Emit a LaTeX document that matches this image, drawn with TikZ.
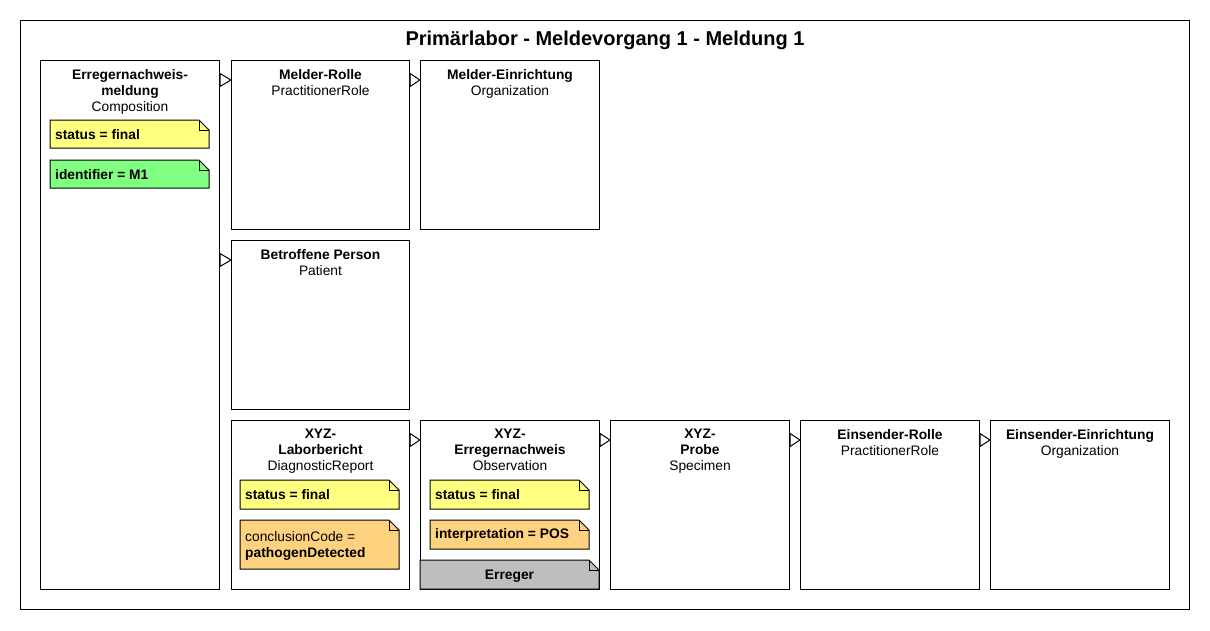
\documentclass[tikz,border=0pt]{standalone}
\usepackage{fontspec}
\setmainfont{Liberation Sans}
\usetikzlibrary{calc}
\definecolor{noteyellow}{HTML}{FFFF80}
\definecolor{notegreen}{HTML}{80FF80}
\definecolor{noteorange}{HTML}{FFD280}
\definecolor{notegray}{HTML}{BEBEBE}
\tikzset{
  every node/.style={font=\fontsize{13.8}{16}\selectfont},
  res/.style={draw=black, fill=white, line width=1pt, anchor=north west, inner sep=0pt,
              minimum width=179pt, minimum height=169pt},
  restext/.style={anchor=north, align=center, inner sep=0pt},
  notetext/.style={anchor=west, align=left, inner sep=0pt},
  ln/.style={line width=1pt},
  gentri/.style={line width=1pt, fill=white, line join=miter},
}
% #1 name, #2 x, #3 y, #4 w, #5 h, #6 colour
\newcommand\noteshape[6]{%
  \filldraw[ln, fill=#6] (#2,#3) -- ++(#4-10,0) -- ++(10,10) -- ++(0,#5-10) -- ++(-#4,0) -- cycle;
  \draw[ln] (#2+#4-10,#3) -- ++(0,10) -- ++(10,0);
  \coordinate (#1) at (#2,#3+#5/2);
}
\newcommand\gen[2]{%
  \draw[gentri] ($(#1.east |- #2.north)+(0,13.5)$) -- ($(#2.north west)+(0,20)$)
    -- ($(#1.east |- #2.north)+(0,26.5)$) -- cycle;
}
\begin{document}
\begin{tikzpicture}[x=1pt,y=-1pt]
\useasboundingbox (0,0) rectangle (1210,630);
\node[res, minimum width=1169pt, minimum height=589pt] (frame) at (20,20) {};
\node[anchor=base, inner sep=0pt, font=\fontsize{20}{22}\selectfont\bfseries] (title)
  at ($(frame.north)+(0,25)$) {Primärlabor - Meldevorgang 1 - Meldung 1};

% resource boxes
\node[res, minimum height=529pt] (comp) at (40,60) {};
\node[res, minimum width=178pt] (mr) at (231,60) {};
\node[res] (me) at (420,60) {};
\node[res, minimum width=178pt] (pat) at (231,240) {};
\node[res, minimum width=178pt] (dr) at (231,420) {};
\node[res] (obs) at (420,420) {};
\node[res] (spec) at (610,420) {};
\node[res] (er) at (800,420) {};
\node[res] (ee) at (990,420) {};

% box titles
\node[restext] (compT) at ($(comp.north)+(0,9)$) {\textbf{Erregernachweis-}\\\textbf{meldung}\\Composition};
\node[restext] (mrT) at ($(mr.north)+(0,9)$) {\textbf{Melder-Rolle}\\PractitionerRole};
\node[restext] (meT) at ($(me.north)+(0,9)$) {\textbf{Melder-Einrichtung}\\Organization};
\node[restext] (patT) at ($(pat.north)+(0,9)$) {\textbf{Betroffene Person}\\Patient};
\node[restext] (drT) at ($(dr.north)+(0,9)$) {\textbf{XYZ-}\\\textbf{Laborbericht}\\DiagnosticReport};
\node[restext] (obsT) at ($(obs.north)+(0,9)$) {\textbf{XYZ-}\\\textbf{Erregernachweis}\\Observation};
\node[restext] (specT) at ($(spec.north)+(0,9)$) {\textbf{XYZ-}\\\textbf{Probe}\\Specimen};
\node[restext] (erT) at ($(er.north)+(0,9)$) {\textbf{Einsender-Rolle}\\PractitionerRole};
\node[restext] (eeT) at ($(ee.north)+(0,9)$) {\textbf{Einsender-Einrichtung}\\Organization};

% notes
\noteshape{n1}{50}{120}{159}{28}{noteyellow}
\node[notetext] (n1t) at ($(n1)+(5,0.5)$) {\textbf{status = final}};
\noteshape{n2}{50}{160}{159}{28}{notegreen}
\node[notetext] (n2t) at ($(n2)+(5,0.5)$) {\textbf{identifier = M1}};
\noteshape{n3}{240}{480}{159}{29}{noteyellow}
\node[notetext] (n3t) at ($(n3)+(5,0.5)$) {\textbf{status = final}};
\noteshape{n4}{240}{520}{159}{49}{noteorange}
\node[notetext] (n4t) at ($(n4)+(5,1)$) {conclusionCode =\\\textbf{pathogenDetected}};
\noteshape{n5}{430}{480}{159}{29}{noteyellow}
\node[notetext] (n5t) at ($(n5)+(5,0.5)$) {\textbf{status = final}};
\noteshape{n6}{430}{520}{159}{29}{noteorange}
\node[notetext] (n6t) at ($(n6)+(5,0.5)$) {\textbf{interpretation = POS}};
\noteshape{n7}{420}{560}{179}{29}{notegray}
\node[anchor=center, inner sep=0pt] (n7t) at ($(n7)+(89.5,1.5)$) {\textbf{Erreger}};

% generalisation-like triangles
\gen{comp}{mr}
\gen{mr}{me}
\gen{comp}{pat}
\gen{dr}{obs}
\gen{obs}{spec}
\gen{spec}{er}
\gen{er}{ee}
\end{tikzpicture}
\end{document}
